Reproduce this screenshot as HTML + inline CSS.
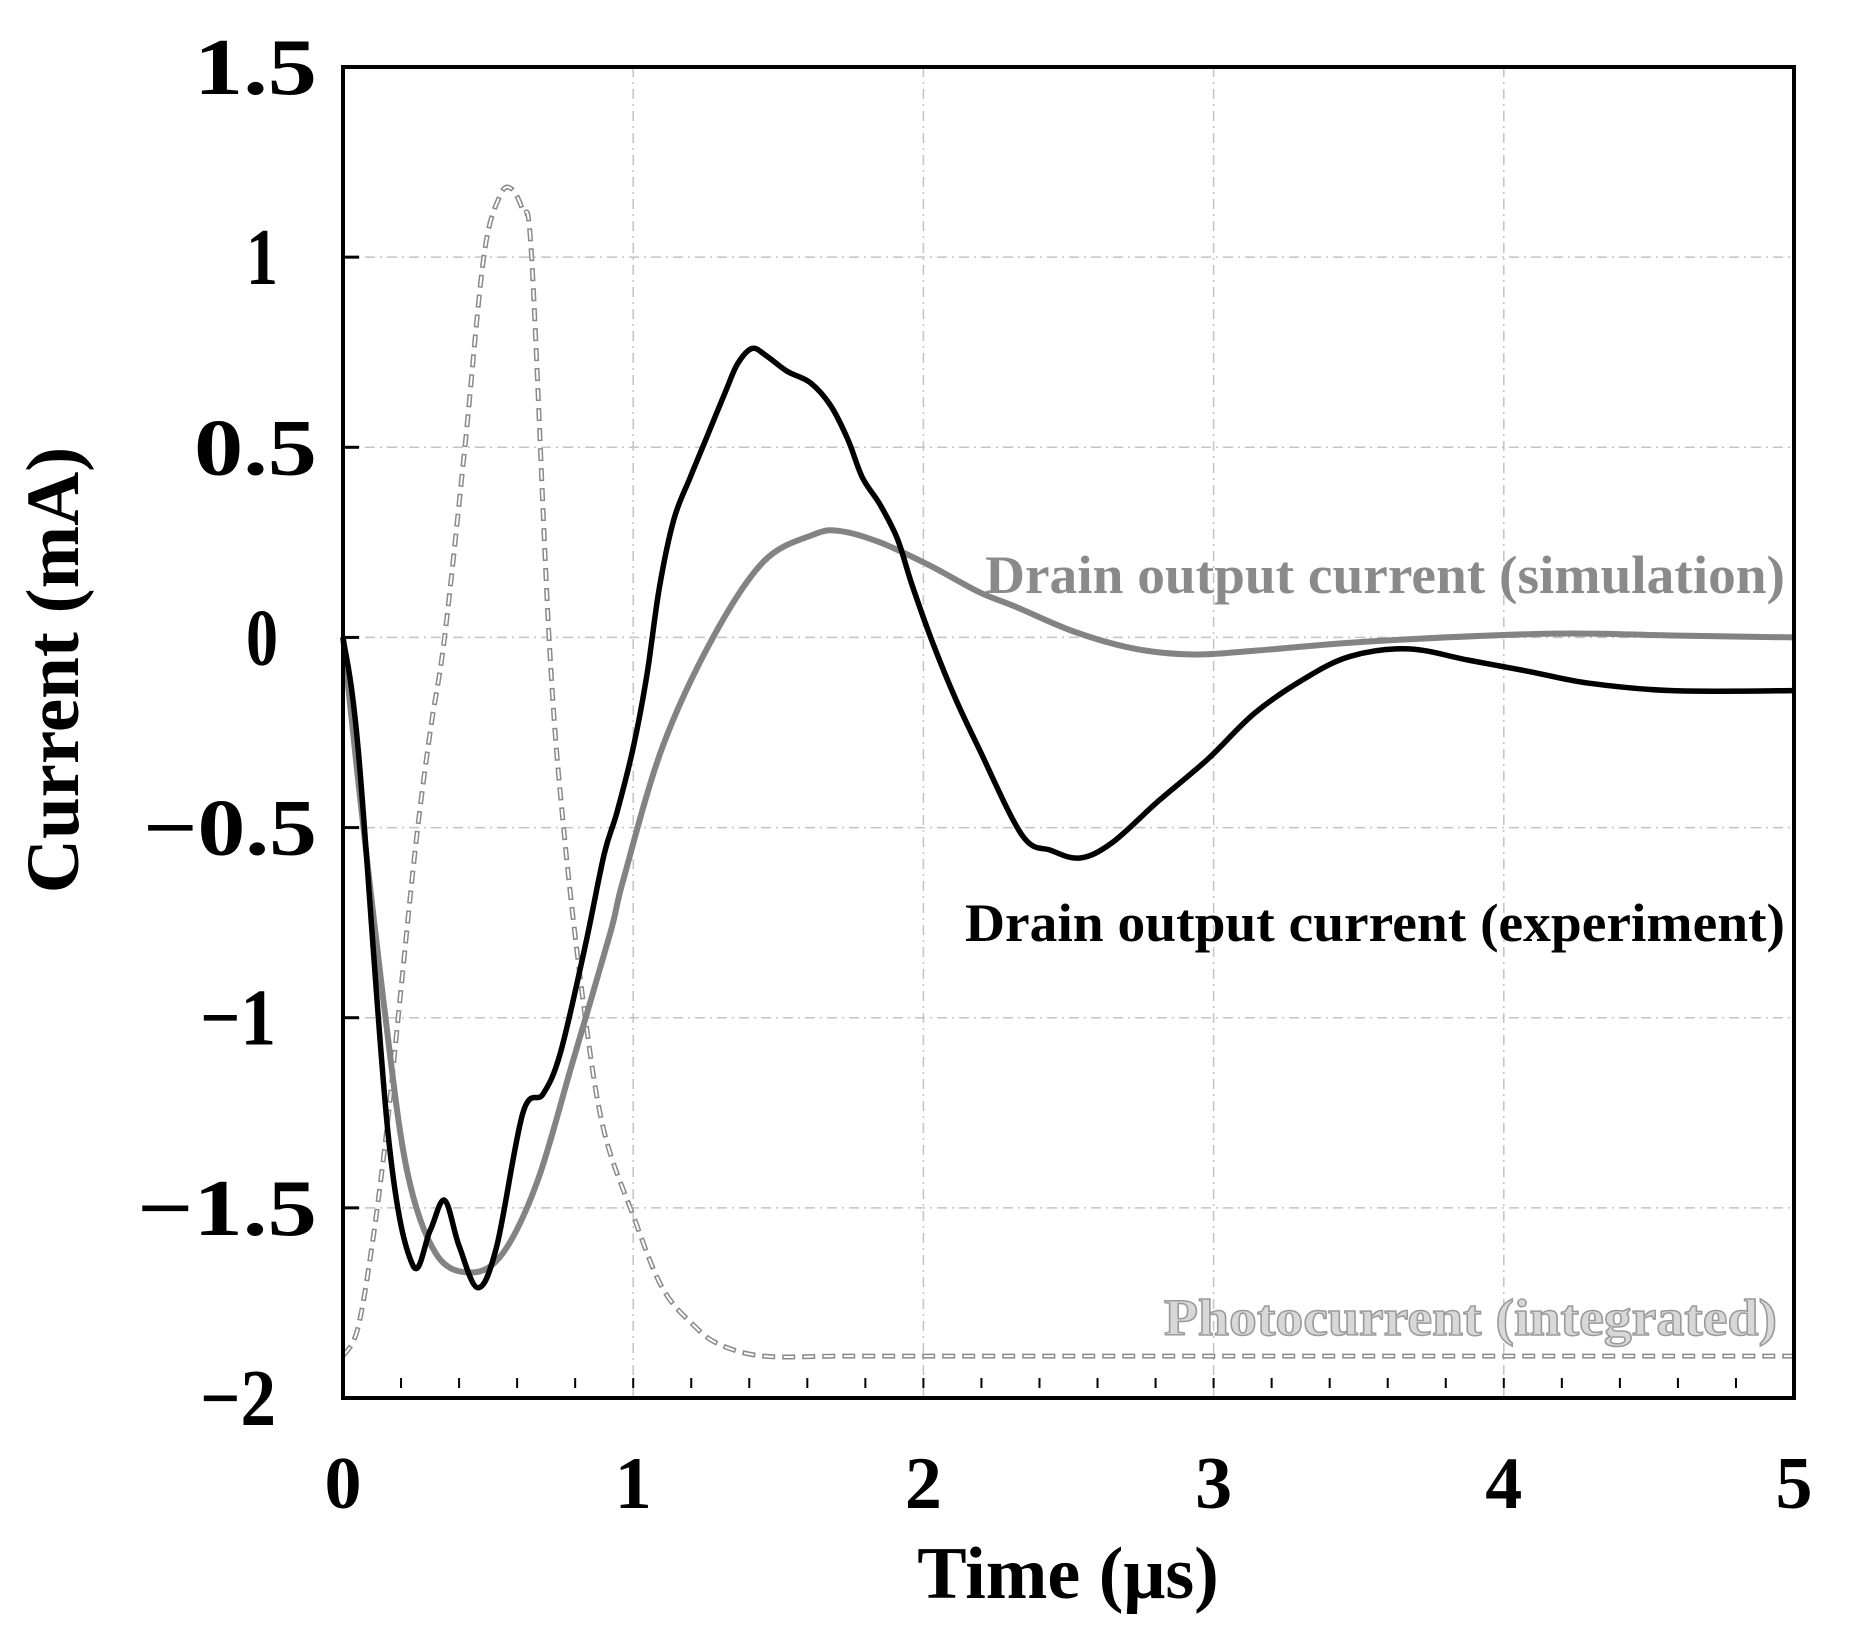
<!DOCTYPE html>
<html><head><meta charset="utf-8"><style>
html,body{margin:0;padding:0;background:#fff;}
svg{display:block;font-family:"Liberation Serif",serif;font-weight:bold;}
</style></head><body>
<svg id="chart" width="1872" height="1641" viewBox="0 0 1872 1641" xmlns="http://www.w3.org/2000/svg">
<g id="grid"></g>
<g id="series"></g>
<rect x="343" y="67" width="1451" height="1331" fill="none" stroke="#000" stroke-width="4"/>
<g id="ticks"></g>
<g id="labels"></g>
<text x="1068" y="1598" text-anchor="middle" font-size="74">Time (μs)</text>
<text transform="translate(78,670) rotate(-90)" text-anchor="middle" font-size="75">Current (mA)</text>
<text x="985" y="593" font-size="54" fill="#8a8a8a" textLength="800" lengthAdjust="spacingAndGlyphs">Drain output current (simulation)</text>
<text x="965" y="941" font-size="54" fill="#000" textLength="820" lengthAdjust="spacingAndGlyphs">Drain output current (experiment)</text>
<text x="1164" y="1335" font-size="52" fill="#d8d8d8" stroke="#9a9a9a" stroke-width="1.5" textLength="613" lengthAdjust="spacingAndGlyphs">Photocurrent (integrated)</text>
</svg>
<script>
const xTicks=[0,1,2,3,4,5];
const yTicks=[1.5,1,0.5,0,-0.5,-1,-1.5,-2];
const yTickLabels=["1.5","1","0.5","0","−0.5","−1","−1.5","−2"];
const expT=[0,0.053,0.156,0.24,0.30,0.35,0.40,0.465,0.53,0.62,0.69,0.75,0.835,0.90,0.944,1.0,1.047,1.09,1.14,1.196,1.25,1.32,1.36,1.41,1.46,1.53,1.61,1.68,1.74,1.79,1.85,1.91,1.96,2.03,2.11,2.19,2.34,2.44,2.54,2.65,2.81,2.98,3.14,3.31,3.47,3.67,3.88,4.09,4.29,4.58,5.0];
const expI=[0,-0.30,-1.31,-1.65,-1.56,-1.48,-1.6,-1.71,-1.6,-1.25,-1.2,-1.09,-0.81,-0.57,-0.46,-0.29,-0.10,0.13,0.31,0.42,0.52,0.65,0.72,0.76,0.74,0.70,0.67,0.61,0.52,0.42,0.35,0.26,0.14,-0.01,-0.16,-0.29,-0.52,-0.56,-0.58,-0.54,-0.43,-0.32,-0.20,-0.11,-0.05,-0.03,-0.06,-0.09,-0.12,-0.14,-0.14];
const simT=[0,0.05,0.14,0.22,0.32,0.44,0.55,0.67,0.79,0.92,0.965,1.10,1.275,1.45,1.62,1.71,1.85,2.02,2.19,2.32,2.52,2.73,2.93,3.14,3.55,4.17,4.58,5.0];
const simI=[0,-0.36,-0.96,-1.40,-1.62,-1.67,-1.62,-1.43,-1.12,-0.78,-0.64,-0.29,0.0,0.2,0.27,0.28,0.25,0.19,0.12,0.08,0.015,-0.03,-0.045,-0.035,-0.01,0.01,0.005,0];
const phT=[0,0.05,0.1,0.15,0.19,0.25,0.3,0.35,0.42,0.485,0.54,0.58,0.62,0.65,0.71,0.76,0.835,0.9,1.0,1.1,1.21,1.3,1.45,1.7,2.0,2.5,3.0,3.5,4.0,4.5,5.0];
const phI=[-1.89,-1.82,-1.6,-1.3,-1.0,-0.55,-0.25,0,0.5,1.0,1.16,1.18,1.12,1.0,0,-0.5,-1.0,-1.3,-1.52,-1.71,-1.81,-1.86,-1.89,-1.89,-1.89,-1.89,-1.89,-1.89,-1.89,-1.89,-1.89];
const yLabelRight={"1.5":317,"1":278,"0.5":317,"0":278,"−0.5":317,"−1":276,"−1.5":317,"−2":276};
const yLabelWidth={"1.5":123,"1":32,"0.5":123,"0":32,"−0.5":174,"−1":76,"−1.5":180,"−2":76};
const X0=343,X1=1794,Y0=67,Y1=1398;
const sx=t=>X0+(t-0)/5*(X1-X0);
const sy=v=>Y0+(1.5-v)/3.5*(Y1-Y0);
const NS="http://www.w3.org/2000/svg";
function mk(tag,attrs,parent){const e=document.createElementNS(NS,tag);for(const k in attrs)e.setAttribute(k,attrs[k]);parent.appendChild(e);return e;}
function path(ts,vs){const p=ts.map((t,i)=>[sx(t),sy(vs[i])]);let d="M"+p[0][0]+","+p[0][1];
for(let i=0;i<p.length-1;i++){const a=p[Math.max(0,i-1)],b=p[i],c=p[i+1],e=p[Math.min(p.length-1,i+2)];
d+=" C"+(b[0]+(c[0]-a[0])/6)+","+(b[1]+(c[1]-a[1])/6)+" "+(c[0]-(e[0]-b[0])/6)+","+(c[1]-(e[1]-b[1])/6)+" "+c[0]+","+c[1];}return d;}
const grid=document.getElementById('grid'),ser=document.getElementById('series'),tk=document.getElementById('ticks'),lb=document.getElementById('labels');
xTicks.forEach(t=>{if(t>0&&t<5){const l=mk('line',{x1:sx(t),x2:sx(t),y1:Y0,y2:Y1,stroke:'#c4c4c4','stroke-width':1.5,'stroke-dasharray':'10 5 2 5'},grid);

}
const tx=mk('text',{x:sx(t),y:1508,'text-anchor':'middle','font-size':74},lb);tx.textContent=String(t);

});
yTicks.forEach((v,i)=>{if(v<1.5&&v>-2){const l=mk('line',{x1:X0,x2:X1,y1:sy(v),y2:sy(v),stroke:'#c4c4c4','stroke-width':1.5,'stroke-dasharray':'10 5 2 5'},grid);


const m=mk('line',{x1:X0,x2:X0+16,y1:sy(v),y2:sy(v),stroke:'#000','stroke-width':3},tk);

}
const s=yTickLabels[i];const w=yLabelWidth[s],r=yLabelRight[s];
const a=mk('text',{x:r-w,y:sy(v)+27,'font-size':80,textLength:w,lengthAdjust:'spacingAndGlyphs'},lb);a.textContent=s;

});
for(let t=0.2;t<5;t+=0.2){const m=mk('line',{x1:sx(t),x2:sx(t),y1:Y1-10,y2:Y1-20,stroke:'#000','stroke-width':2},tk);

}
const ph1=mk('path',{d:path(phT,phI),fill:'none',stroke:'#8a8a8a','stroke-width':5,'stroke-dasharray':'13 7'},ser);


const ph2=mk('path',{d:path(phT,phI),fill:'none',stroke:'#fff','stroke-width':2,'stroke-dasharray':'10 10','stroke-dashoffset':'-1.5'},ser);


const sim=mk('path',{d:path(simT,simI),fill:'none',stroke:'#838383','stroke-width':6},ser);


const ex=mk('path',{d:path(expT,expI),fill:'none',stroke:'#000','stroke-width':5.5},ser);


</script>
</body></html>
